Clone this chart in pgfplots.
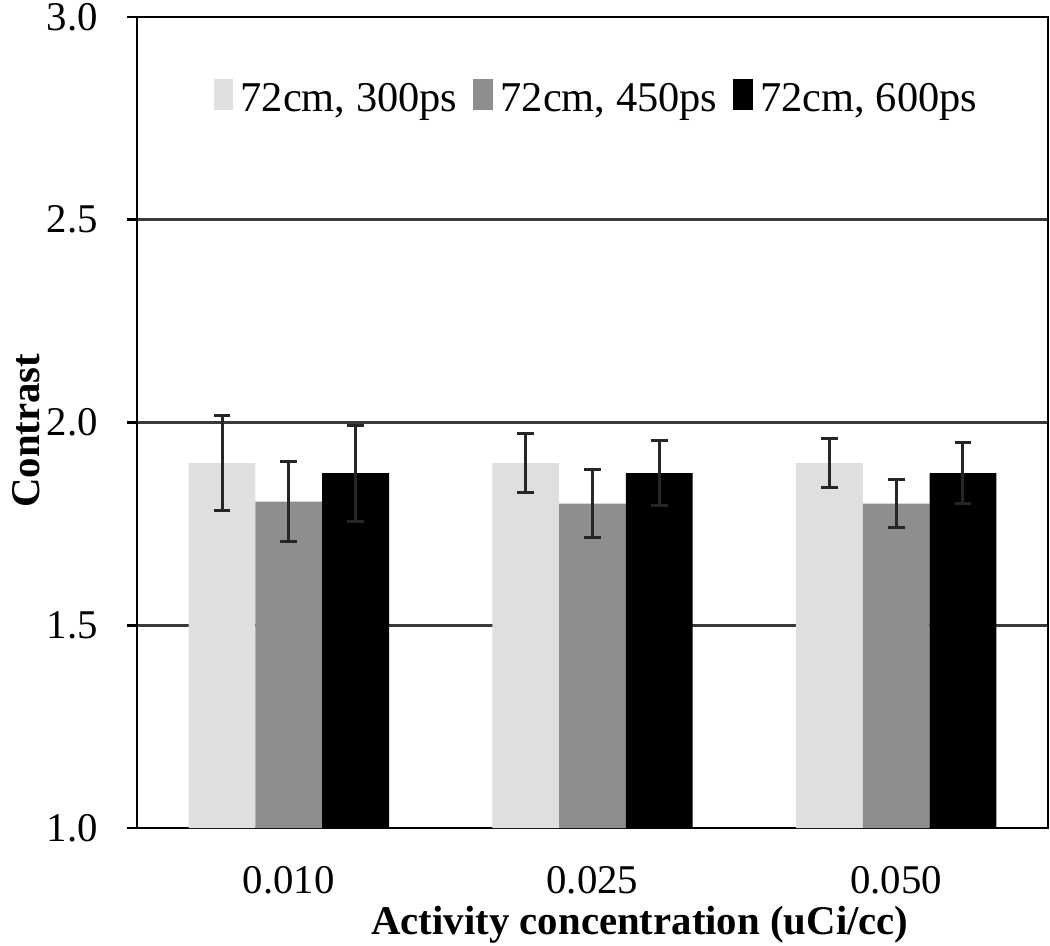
\documentclass[border=0pt]{standalone}
\usepackage{fontspec}
\setmainfont{Liberation Serif}
\usepackage{pgfplots}
\pgfplotsset{compat=1.18}

\definecolor{barlight}{HTML}{DFDFDF}
\definecolor{barmid}{HTML}{8E8E8E}
\definecolor{gridgray}{HTML}{3A3A3A}

\begin{document}
\begin{tikzpicture}
% fixed page box: axis box is at (0,0) .. (227.75pt,202.75pt)
\useasboundingbox (-34.25pt,-29.25pt) rectangle (228.25pt,207pt);
\begin{axis}[
  at={(0,0)}, anchor=south west,
  scale only axis,
  width=227.75pt, height=202.75pt,
  ybar=0pt,
  bar width=0.22,
  xmin=-0.5, xmax=2.5,
  ymin=1, ymax=3,
  xtick={0,1,2},
  xticklabels={0.010,0.025,0.050},
  minor xtick={-0.5,0.5,1.5,2.5},
  ytick={1,1.5,2,2.5,3},
  yticklabel style={/pgf/number format/fixed, /pgf/number format/fixed zerofill, /pgf/number format/precision=1},
  /pgf/number format/assume math mode=true,
  tick align=outside,
  tick pos=left,
  major tick length=2.5pt,
  minor tick length=3.2pt,
  xtick style={draw=none},
  minor x tick style={black, line width=0.7pt},
  ytick style={black, line width=0.7pt},
  ymajorgrids,
  grid style={gridgray, line width=0.65pt},
  axis line style={black, line width=0.7pt},
  tick label style={font=\fontsize{10.2}{12}\selectfont},
  xticklabel style={yshift=-3.6pt},
  yticklabel style={xshift=-3.8pt},
  xlabel={\textbf{Activity concentration (uCi/cc)}},
  ylabel={\textbf{Contrast}},
  label style={font=\fontsize{10.2}{12}\selectfont},
  xlabel style={at={(axis description cs:0.5521,-0.1319)}, anchor=base},
  ylabel style={at={(axis description cs:-0.1218,0.49)}, anchor=center},
  legend columns=3,
  legend style={at={(axis description cs:0.5076,0.897)}, anchor=center,
    draw=none, fill=none, font=\fontsize{10.6}{12}\selectfont,
    /tikz/every even column/.append style={column sep=2pt},
    inner sep=0pt},
  legend image code/.code={\fill[#1] (0pt,-2.3pt) rectangle (4.8pt,5.4pt);},
  error bars/error bar style={black!85, line width=0.75pt},
  error bars/error mark options={rotate=90, mark size=2.1pt, line width=0.75pt, black!85},
]
\addplot[fill=barlight, draw=none, error bars/.cd, y dir=both, y explicit]
  coordinates {(0,1.90) +- (0,0.117) (1,1.90) +- (0,0.073) (2,1.90) +- (0,0.061)};
\addplot[fill=barmid, draw=none, error bars/.cd, y dir=both, y explicit]
  coordinates {(0,1.805) +- (0,0.098) (1,1.80) +- (0,0.084) (2,1.80) +- (0,0.059)};
\addplot[fill=black, draw=none, error bars/.cd, y dir=both, y explicit]
  coordinates {(0,1.875) +- (0,0.118) (1,1.875) +- (0,0.080) (2,1.875) +- (0,0.075)};
\legend{72cm{,} 300ps, 72cm{,} 450ps, 72cm{,} 600ps}
\end{axis}
\end{tikzpicture}
\end{document}
